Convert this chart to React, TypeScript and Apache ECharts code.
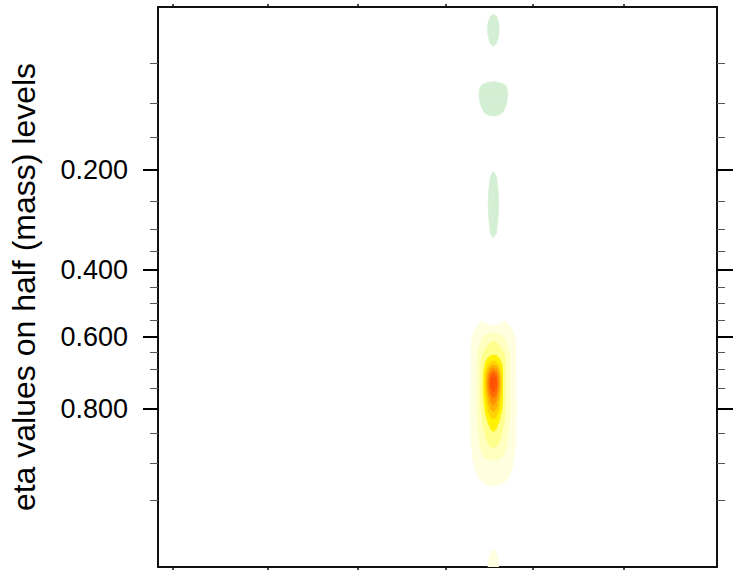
import React, { useEffect, useRef } from "react";
import * as echarts from "echarts";

// Eta value of each half (mass) level, bottom (k = 0) to model top.
const etaHalf = [
  0.994, 0.985, 0.972, 0.956, 0.928, 0.9, 0.867, 0.829, 0.783, 0.731, 0.672, 0.607, 0.544, 0.482,
  0.418, 0.36, 0.31, 0.272, 0.237, 0.205, 0.173, 0.142, 0.11, 0.083, 0.058, 0.031, 0.015, 0.004,
];

// Labelled and unlabelled eta ticks on the vertical axis.
const etaMajor = [0.2, 0.4, 0.6, 0.8];
const etaMinor = [0.05, 0.1, 0.15, 0.25, 0.3, 0.35, 0.45, 0.5, 0.55, 0.65, 0.7, 0.75, 0.85, 0.9, 0.95];

// Horizontal grid: 56 columns, tick marks along the section.
const nx = 56;
const xTickAt = [1.5, 10.8, 19.7, 28.3, 36.9, 45.8];

// Field profiles (per level, k = 0..27) of the columns that carry signal; all other columns are 0.
const col31 = [0, 0, 0, 0, 0.2, 0.45, 0.65, 0.75, 0.8, 0.75, 0.7, 0.6, 0.1, 0, 0, 0, 0, 0, 0, 0, 0, 0, -0.05, -0.15, 0, 0, 0, 0];
const col32 = [0, 0, 0, 0.1, 0.45, 1.2, 2.0, 2.6, 3.2, 3.4, 2.9, 1.6, 0.35, 0, 0, 0, 0, -0.05, -0.05, 0, 0, 0, -0.5, -0.7, 0.2, 0, 0, 0];
const col33 = [0.9, 0.45, 0.3, 0.2, 0.55, 1.3, 2.9, 4.2, 7.0, 9.6, 4.2, 2.3, -0.3, 0, 0, -0.1, -0.55, -0.8, -0.8, -0.52, 0, 0, -0.65, -0.9, 0.2, -0.42, -1.0, -0.21];
const col34 = [0, 0, 0, 0.1, 0.45, 1.2, 2.0, 2.6, 3.2, 3.4, 2.9, 1.6, 0.35, 0, 0, 0, 0, -0.05, -0.05, 0, 0, 0, -0.5, -0.7, 0.2, 0, 0, 0];
const col35 = [0, 0, 0, 0, 0.2, 0.45, 0.65, 0.75, 0.8, 0.75, 0.7, 0.6, 0.1, 0, 0, 0, 0, 0, 0, 0, 0, 0, -0.05, -0.15, 0, 0, 0, 0];

// Contour intervals and their fill colours (the band around zero stays white).
const bandLo = [-Infinity, 0.5, 1.5, 2.5, 3.5, 4.5, 5.5, 6.5, 7.5, 8.5];
const bandHi = [-0.5, 1.5, 2.5, 3.5, 4.5, 5.5, 6.5, 7.5, 8.5, Infinity];
const bandColor = [
  "#d4efd4", "#ffffdf", "#ffffc0", "#ffff8e", "#fff200", "#ffd400", "#ffb000", "#ff8e00", "#ff6c00", "#ff5200",
];

const FONT = "'Liberation Sans', Arial, Helvetica, sans-serif";

// Sub-cells per grid cell used when drawing the smoothed contour fill.
const SUB_X = 4;
const SUB_Y = 8;

type P = { x: number; y: number; v: number };

function clip(poly: P[], level: number, keepAbove: boolean): P[] {
  const out: P[] = [];
  const inside = (p: P) => (keepAbove ? p.v >= level : p.v <= level);
  for (let n = 0; n < poly.length; n++) {
    const a = poly[n];
    const b = poly[(n + 1) % poly.length];
    const ia = inside(a);
    const ib = inside(b);
    if (ia !== ib) {
      const t = (level - a.v) / (b.v - a.v);
      out.push({ x: a.x + t * (b.x - a.x), y: a.y + t * (b.y - a.y), v: level });
    }
    if (ib) out.push(b);
  }
  return out;
}

function bandOf(v: number): number {
  for (let b = 0; b < bandLo.length; b++) if (v >= bandLo[b] && v < bandHi[b]) return b;
  return -1;
}

function catmull(p0: number, p1: number, p2: number, p3: number, t: number): number {
  return 0.5 * (2 * p1 + (-p0 + p2) * t + (2 * p0 - 5 * p1 + 4 * p2 - p3) * t * t + (-p0 + 3 * p1 - 3 * p2 + p3) * t * t * t);
}

function etaToLevel(e: number): number {
  for (let k = 0; k < etaHalf.length - 1; k++) {
    const a = etaHalf[k];
    const b = etaHalf[k + 1];
    if (e <= a && e >= b) return k + (a - e) / (a - b);
  }
  return e > etaHalf[0] ? 0 : etaHalf.length - 1;
}

export default function App() {
  const ref = useRef<HTMLDivElement>(null);

  useEffect(() => {
    if (!ref.current) return;
    const chart = echarts.init(ref.current, undefined, { renderer: "svg" });

    const nk = etaHalf.length;
    const columns: Record<number, number[]> = { 31: col31, 32: col32, 33: col33, 34: col34, 35: col35 };
    const field = (i: number, k: number) => {
      const ii = Math.max(0, Math.min(nx - 1, i));
      const kk = Math.max(0, Math.min(nk - 1, k));
      return columns[ii] ? columns[ii][kk] : 0;
    };

    // Smooth (bicubic) value inside cell (i, k), kept within the range of the cell's corners.
    const smooth = (i: number, k: number, tx: number, ty: number) => {
      const rows: number[] = [];
      for (let r = -1; r <= 2; r++) {
        rows.push(catmull(field(i - 1, k + r), field(i, k + r), field(i + 1, k + r), field(i + 2, k + r), tx));
      }
      const v = catmull(rows[0], rows[1], rows[2], rows[3], ty);
      const cs = [field(i, k), field(i + 1, k), field(i, k + 1), field(i + 1, k + 1)];
      return Math.max(Math.min(...cs), Math.min(Math.max(...cs), v));
    };

    // Cells that contain any shaded value.
    const cells: number[][] = [];
    for (let i = 0; i < nx - 1; i++) {
      for (let k = 0; k < nk - 1; k++) {
        const vs = [field(i, k), field(i + 1, k), field(i, k + 1), field(i + 1, k + 1)];
        if (vs.some((v) => v >= 0.5 || v <= -0.5)) cells.push([i, k]);
      }
    }

    const majorPos = etaMajor.map(etaToLevel);
    const minorPos = etaMinor.map(etaToLevel);

    const renderItem = (params: any, api: any) => {
      const i = api.value(0);
      const k = api.value(1);
      const grid: P[][] = [];
      for (let a = 0; a <= SUB_X; a++) {
        const col: P[] = [];
        for (let b = 0; b <= SUB_Y; b++) {
          col.push({ x: i + a / SUB_X, y: k + b / SUB_Y, v: smooth(i, k, a / SUB_X, b / SUB_Y) });
        }
        grid.push(col);
      }
      const children: any[] = [];
      const emit = (poly: P[], b: number) => {
        const pts = poly.map((p) => api.coord([p.x, p.y]));
        children.push({
          type: "polygon",
          shape: { points: pts },
          style: { fill: bandColor[b], stroke: bandColor[b], lineWidth: 0.7 },
          silent: true,
        });
      };
      for (let a = 0; a < SUB_X; a++) {
        for (let b = 0; b < SUB_Y; b++) {
          const q = [grid[a][b], grid[a + 1][b], grid[a + 1][b + 1], grid[a][b + 1]];
          const bs = q.map((p) => bandOf(p.v));
          if (bs.every((x) => x === bs[0])) {
            if (bs[0] >= 0) emit(q, bs[0]);
            continue;
          }
          const tris = [
            [q[0], q[1], q[2]],
            [q[0], q[2], q[3]],
          ];
          for (const tri of tris) {
            const vmin = Math.min(tri[0].v, tri[1].v, tri[2].v);
            const vmax = Math.max(tri[0].v, tri[1].v, tri[2].v);
            for (let bb = 0; bb < bandLo.length; bb++) {
              if (bandHi[bb] < vmin || bandLo[bb] > vmax) continue;
              let poly: P[] = tri;
              if (isFinite(bandLo[bb])) poly = clip(poly, bandLo[bb], true);
              if (poly.length >= 3 && isFinite(bandHi[bb])) poly = clip(poly, bandHi[bb], false);
              if (poly.length >= 3) emit(poly, bb);
            }
          }
        }
      }
      return { type: "group", children };
    };

    const xCommon = {
      type: "value",
      min: 0,
      max: nx - 1,
      splitLine: { show: false },
      axisLabel: { show: false },
      axisLine: { show: true, onZero: false, lineStyle: { color: "#111", width: 2 } },
    };

    const yCommon = {
      type: "value",
      min: 0,
      max: nk - 1,
      splitLine: { show: false },
    };

    chart.setOption({
      animation: false,
      backgroundColor: "#fff",
      grid: { left: 157, top: 7, width: 560, height: 560, containLabel: false },
      xAxis: [
        {
          ...xCommon,
          position: "bottom",
          axisTick: { show: true, customValues: xTickAt, length: 5, lineStyle: { color: "#111", width: 1.5 } },
        },
        {
          ...xCommon,
          position: "top",
          axisTick: { show: true, customValues: xTickAt, length: 3, lineStyle: { color: "#111", width: 1.5 } },
        },
      ],
      yAxis: [
        {
          ...yCommon,
          position: "left",
          name: "eta values on half (mass) levels",
          nameLocation: "middle",
          nameRotate: 90,
          nameGap: 118,
          nameTextStyle: { fontSize: 32, fontFamily: FONT, color: "#000" },
          axisLine: { show: true, lineStyle: { color: "#111", width: 2 } },
          axisTick: { show: true, customValues: majorPos, length: 15, lineStyle: { color: "#000", width: 2 } },
          axisLabel: {
            show: true,
            customValues: majorPos,
            margin: 30,
            fontSize: 27,
            fontFamily: FONT,
            color: "#000",
            formatter: (v: number) => {
              let best = 0;
              majorPos.forEach((p, n) => {
                if (Math.abs(p - v) < Math.abs(majorPos[best] - v)) best = n;
              });
              return etaMajor[best].toFixed(3);
            },
          },
        },
        {
          ...yCommon,
          position: "left",
          axisLine: { show: false },
          axisLabel: { show: false },
          axisTick: { show: true, customValues: minorPos, length: 8, lineStyle: { color: "#555", width: 1 } },
        },
        {
          ...yCommon,
          position: "right",
          axisLine: { show: true, lineStyle: { color: "#111", width: 2 } },
          axisLabel: { show: false },
          axisTick: { show: true, customValues: majorPos, length: 16, lineStyle: { color: "#000", width: 2 } },
        },
        {
          ...yCommon,
          position: "right",
          axisLine: { show: false },
          axisLabel: { show: false },
          axisTick: { show: true, customValues: minorPos, length: 8, lineStyle: { color: "#555", width: 1 } },
        },
      ],
      series: [
        {
          type: "custom",
          coordinateSystem: "cartesian2d",
          xAxisIndex: 0,
          yAxisIndex: 0,
          renderItem,
          encode: { x: 0, y: 1 },
          data: cells,
          clip: true,
          z: 1,
        },
      ],
    });

    return () => chart.dispose();
  }, []);

  return (
    <div
      ref={ref}
      style={{ position: "fixed", left: 0, top: 0, width: 733, height: 570, background: "#fff" }}
    />
  );
}
